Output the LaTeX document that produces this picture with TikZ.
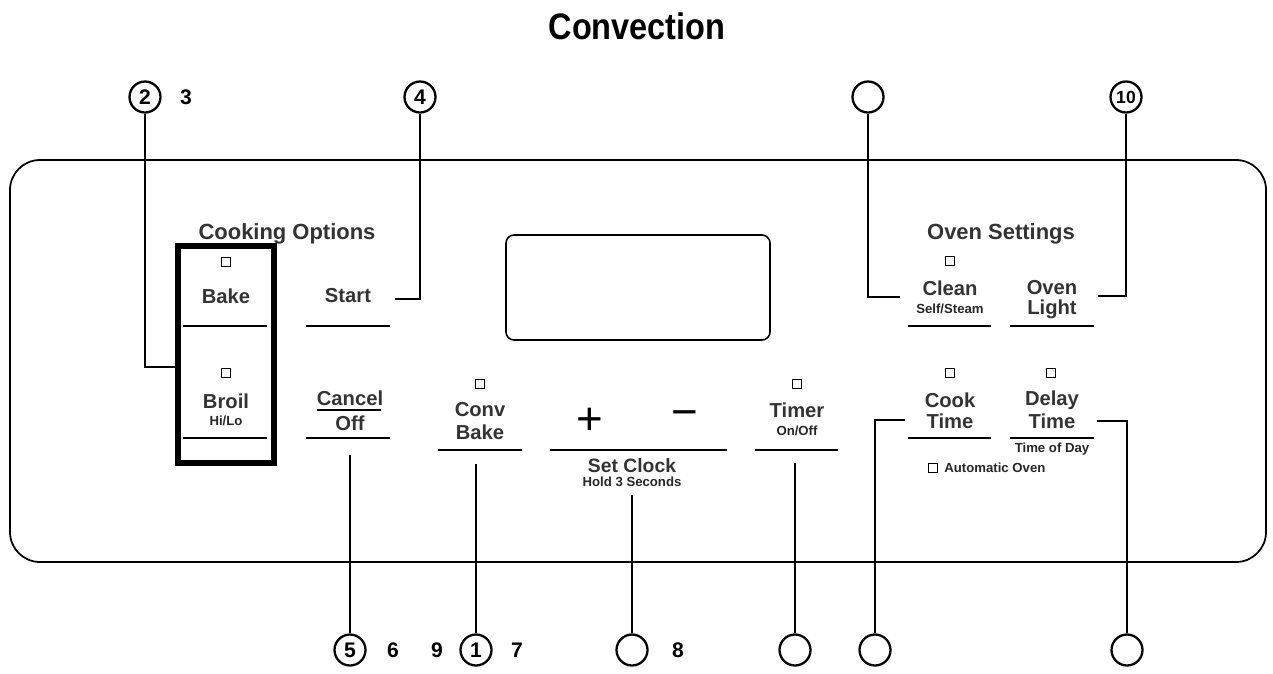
\documentclass[tikz,border=0pt]{standalone}
\usepackage{fontspec}
\setmainfont{Liberation Sans}
\begin{document}
\begin{tikzpicture}[x=0.02cm,y=-0.02cm,
  lbl/.style={inner sep=0pt,font=\fontsize{11.5}{12}\selectfont\bfseries,text=black!80},
  sm/.style={inner sep=0pt,font=\fontsize{7.5}{8}\selectfont\bfseries,text=black!85},
  hd/.style={inner sep=0pt,font=\fontsize{12.5}{13}\selectfont\bfseries,text=black!80},
  num/.style={circle,draw,line width=1.3pt,minimum size=0.62cm,inner sep=0pt,font=\fontsize{12}{12}\selectfont\bfseries},
  fn/.style={inner sep=0pt,font=\fontsize{12}{12}\selectfont\bfseries},
  ind/.style={draw,line width=0.6pt,minimum size=0.17cm,inner sep=0pt},
  bar/.style={line width=1pt},
  lead/.style={line width=1.3pt}]
\useasboundingbox (0,0) rectangle (1273,673);
\node[inner sep=0pt,font=\fontsize{21}{22}\selectfont\bfseries,xscale=0.88] (title) at (637,26) {Convection};
\draw[line width=1pt,rounded corners=0.6cm] (10,160) rectangle (1266,562);
\draw[line width=0.9pt,rounded corners=0.16cm] (506,235) rectangle (770,340);
% circles
\node[num] (c2) at (145,97) {2}; \node[fn] (t3) at (186,97) {3};
\node[num] (c4) at (420,97) {4};
\node[num] (cA) at (868,97) {};
\node[num] (c10) at (1126,97) {\fontsize{10}{10}\selectfont 10};
\node[num] (c5) at (350,650) {5}; \node[fn] (t6) at (393,650) {6};
\node[fn] (t9) at (437,650) {9};
\node[num] (c1) at (476,650) {1}; \node[fn] (t7) at (517,650) {7};
\node[num] (cB) at (632,650) {}; \node[fn] (t8) at (678,650) {8};
\node[num] (cC) at (795,650) {};
\node[num] (cD) at (875,650) {};
\node[num] (cE) at (1127,650) {};
% box
\draw[line width=3.5pt] (178,246) rectangle (274,463);
\node[hd] (co) at (287,234) {Cooking Options};
\node[hd] (os) at (1001,234) {Oven Settings};
% bake / broil
\node[ind] (sq1) at (226,262) {};
\node[lbl] (bake) at (226,296) {Bake};
\draw[bar] (183,326) -- (267,326);
\node[ind] (sq2) at (226,373) {};
\node[lbl] (broil) at (226,401) {Broil};
\node[sm] (hilo) at (226,421) {Hi/Lo};
\draw[bar] (183,438) -- (267,438);
% start / cancel
\node[lbl] (start) at (348,296) {Start};
\draw[bar] (306,326) -- (390,326);
\node[lbl] (cancel) at (350,398) {Cancel};
\draw[line width=0.8pt] (317,410) -- (381,410);
\node[lbl] (off) at (350,423) {Off};
\draw[bar] (306,438) -- (390,438);
% conv bake
\node[ind] (sq3) at (480,384) {};
\node[lbl] (conv) at (480,410) {Conv};
\node[lbl] (cbake) at (480,432) {Bake};
\draw[bar] (438,450) -- (522,450);
% set clock
\node[inner sep=0pt,font=\fontsize{26}{26}\selectfont] (plus) at (590,421) {+};
\node[inner sep=0pt,font=\fontsize{26}{26}\selectfont] (minus) at (685,419) {\textminus};
\draw[bar] (550,450) -- (727,450);
\node[lbl,font=\fontsize{11}{12}\selectfont\bfseries] (setclock) at (632,466) {Set Clock};
\node[sm] (hold) at (632,482) {Hold 3 Seconds};
% timer
\node[ind] (sq4) at (797,384) {};
\node[lbl] (timer) at (797,410) {Timer};
\node[sm] (onoff) at (797,431) {On/Off};
\draw[bar] (755,450) -- (838,450);
% oven settings
\node[ind] (sq5) at (950,261) {};
\node[lbl] (clean) at (950,288) {Clean};
\node[sm] (self) at (950,309) {Self/Steam};
\draw[bar] (908,326) -- (991,326);
\node[lbl] (oven) at (1052,288) {Oven};
\node[lbl] (light) at (1052,309) {Light};
\draw[bar] (1010,326) -- (1094,326);
\node[ind] (sq6) at (950,373) {};
\node[lbl] (cook) at (950,400) {Cook};
\node[lbl] (ctime) at (950,421) {Time};
\draw[bar] (908,438) -- (991,438);
\node[ind] (sq7) at (1051,373) {};
\node[lbl] (delay) at (1052,400) {Delay};
\node[lbl] (dtime) at (1052,421) {Time};
\draw[bar] (1010,438) -- (1094,438);
\node[sm] (tod) at (1052,449) {Time of Day};
\node[ind] (sq8) at (933,468) {};
\node[sm,anchor=west] (auto) at (944,468) {Automatic Oven};
% leaders
\draw[lead] (c2) |- (178,367);
\draw[lead] (c4) |- (395,299);
\draw[lead] (cA) |- (900,297);
\draw[lead] (c10) |- (1098,296);
\draw[lead] (c5) -- (350,455);
\draw[lead] (c1) -- (476,464);
\draw[lead] (cB) -- (632,495);
\draw[lead] (cC) -- (795,463);
\draw[lead] (cD) |- (905,420);
\draw[lead] (cE) |- (1097,421);
\end{tikzpicture}
\end{document}
